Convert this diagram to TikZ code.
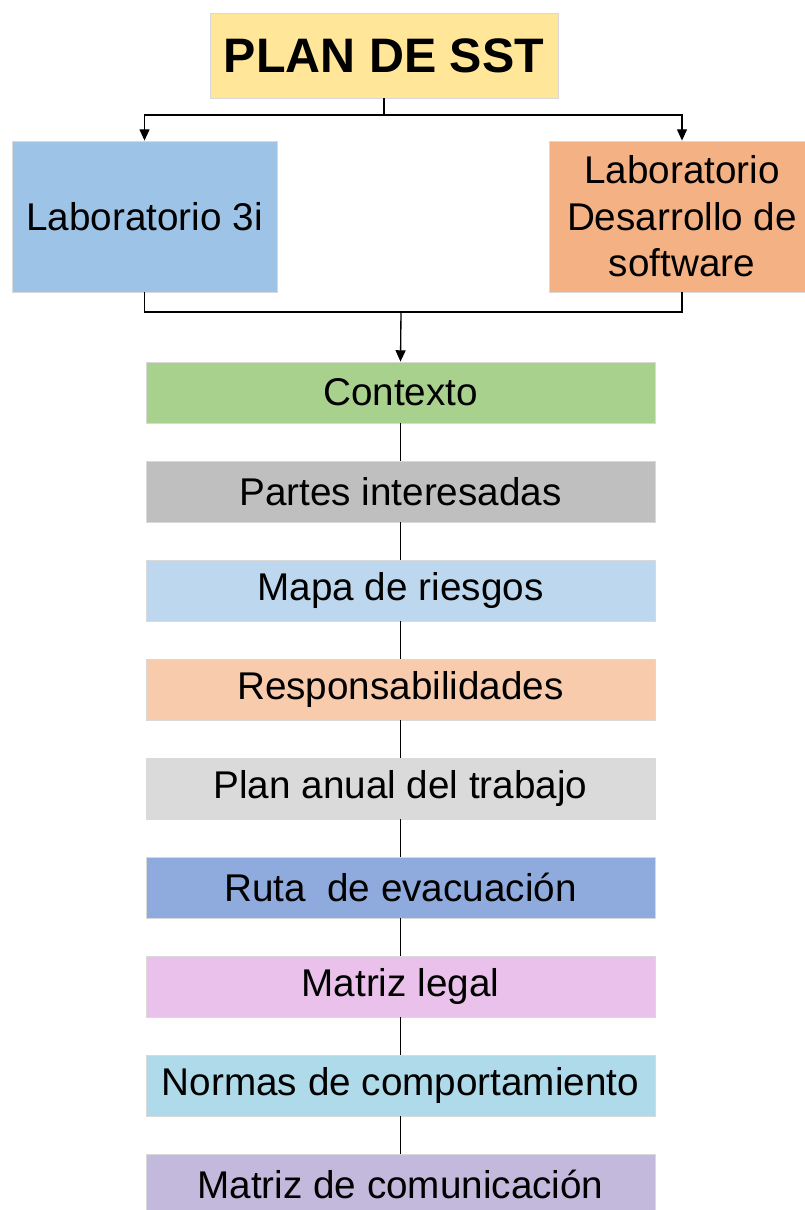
\documentclass[tikz,border=0pt]{standalone}
\usepackage{fontspec}
\setmainfont{Liberation Sans}
\usepackage{tikz}
\usetikzlibrary{arrows.meta,positioning}

\definecolor{planyellow}{HTML}{FFE699}
\definecolor{labblue}{HTML}{9DC3E6}
\definecolor{laborange}{HTML}{F4B183}
\definecolor{ctxgreen}{HTML}{A9D18E}
\definecolor{partgray}{HTML}{BFBFBF}
\definecolor{mapblue}{HTML}{BDD7EE}
\definecolor{respsalmon}{HTML}{F8CBAD}
\definecolor{anualgray}{HTML}{DADADA}
\definecolor{rutablue}{HTML}{8FAADC}
\definecolor{legalpink}{HTML}{EAC1EA}
\definecolor{normcyan}{HTML}{AEDAEA}
\definecolor{comlilac}{HTML}{C3B9DC}

\begin{document}
\begin{tikzpicture}[x=0.75pt, y=-0.75pt, font=\fontsize{29}{35}\selectfont, node distance=27.9pt,
  box/.style={draw=gray!30, line width=0.6pt, align=center, inner sep=0pt},
  lab/.style={box, minimum width=198.75pt, minimum height=113.25pt},
  item/.style={box, minimum width=381.75pt, minimum height=45.75pt},
  flow/.style={-{Triangle[length=8.5pt,width=7.5pt]}, line width=1pt},
  link/.style={line width=1pt},
  chain/.style={line width=0.7pt}]
\useasboundingbox (0,0) rectangle (805,1210);
\node[box, fill=planyellow, minimum width=261pt, minimum height=63.75pt,
  font=\fontsize{36.3}{40}\selectfont\bfseries] (plan) at (384,55.5) {PLAN DE SST};
\node[lab, fill=labblue] (lab3i) at (144.5,216.5) {Laboratorio 3i};
\node[lab, fill=laborange] (labsw) at (682,216.5) {Laboratorio\\Desarrollo de\\software};
\node[item, fill=ctxgreen] (ctx) at (400.5,392.5) {Contexto};
\node[item, fill=partgray, below=of ctx] (partes) {Partes interesadas};
\node[item, fill=mapblue, below=of partes] (mapa) {Mapa de riesgos};
\node[item, fill=respsalmon, below=of mapa] (resp) {Responsabilidades};
\node[item, fill=anualgray, below=of resp] (anual) {Plan anual del trabajo};
\node[item, fill=rutablue, below=of anual] (ruta) {Ruta\ \ de evacuación};
\node[item, fill=legalpink, below=of ruta] (legal) {Matriz legal};
\node[item, fill=normcyan, below=of legal] (normas) {Normas de comportamiento};
\node[item, fill=comlilac, below=of normas] (comun) {Matriz de comunicación};
% branches from the plan
\coordinate (split) at (384,115);
\coordinate (join) at (401,312);
\draw[link] (plan.south) -- (split);
\draw[flow] (split) -| (lab3i.north);
\draw[flow] (split) -| (labsw.north);
% both labs merge into the list
\draw[link] (lab3i.south) |- (join) -| (labsw.south);
\draw[flow] (join) -- (ctx.north);
\draw[chain] (ctx) -- (partes);
\draw[chain] (partes) -- (mapa);
\draw[chain] (mapa) -- (resp);
\draw[chain] (resp) -- (anual);
\draw[chain] (anual) -- (ruta);
\draw[chain] (ruta) -- (legal);
\draw[chain] (legal) -- (normas);
\draw[chain] (normas) -- (comun);
\end{tikzpicture}
\end{document}
